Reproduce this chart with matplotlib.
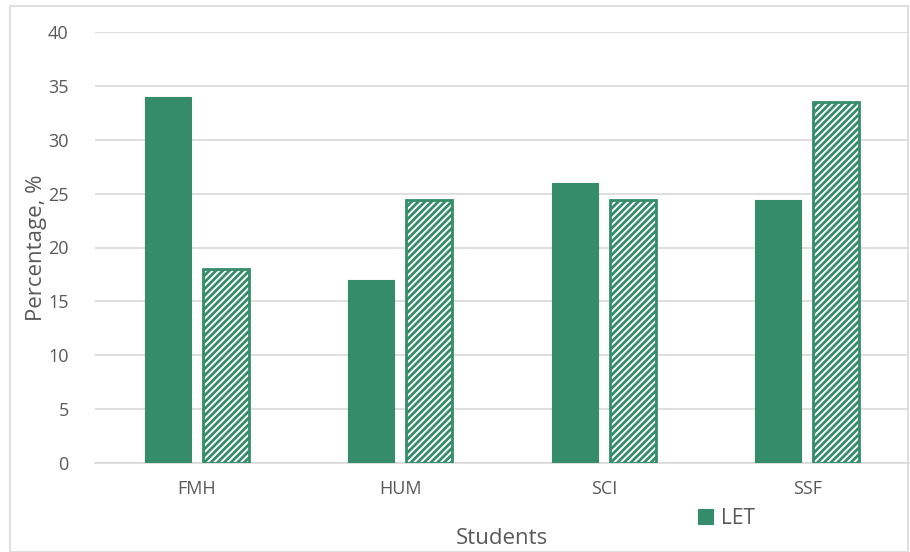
import matplotlib
matplotlib.use("Agg")
import matplotlib.pyplot as plt
from matplotlib.patches import Rectangle
import numpy as np

# Share of students per faculty
categories = ["FMH", "HUM", "SCI", "SSF"]
let_values = [34, 17, 26, 24.4]
other_values = [18, 24.4, 24.4, 33.5]
y_ticks = [0, 5, 10, 15, 20, 25, 30, 35, 40]

green = "#358c6a"
grey_text = "#595959"

plt.rcParams['font.family'] = ['Open Sans', 'DejaVu Sans']
plt.rcParams['hatch.linewidth'] = 2.0

fig = plt.figure(figsize=(9.1, 5.52), dpi=100)
# Chart frame
fig.patches.append(Rectangle((10 / 910, 0), 898 / 910, 1 - 6 / 552,
                             transform=fig.transFigure, fill=False,
                             edgecolor="#d9d9d9", linewidth=1.2))

ax = fig.add_axes([95 / 910, 1 - 463 / 552, 814 / 910, 431 / 552])

x = np.arange(len(categories))
width = 0.225
offset = 0.142

ax.bar(x - offset, let_values, width, color=green, edgecolor=green,
       linewidth=0.8, label="LET", zorder=3)
ax.bar(x + offset, other_values, width, color="white", edgecolor=green,
       hatch="/////", linewidth=2.0, zorder=3)

ax.set_xlim(-0.5, len(categories) - 0.5)
ax.set_ylim(0, 40)
ax.set_yticks(y_ticks)
ax.set_xticks(x)
ax.set_xticklabels(categories)
ax.yaxis.grid(True, color="#d9d9d9", linewidth=1.2, zorder=0)
ax.set_axisbelow(True)

for side in ["top", "right", "left"]:
    ax.spines[side].set_visible(False)
ax.spines["bottom"].set_color("#d9d9d9")
ax.spines["bottom"].set_linewidth(1.2)
ax.tick_params(axis="both", length=0, colors=grey_text, labelsize=13)
ax.tick_params(axis="y", pad=19)
ax.tick_params(axis="x", pad=12)

ax.set_ylabel("Percentage, %", fontsize=16, color=grey_text, labelpad=1)
ax.set_xlabel("Students", fontsize=16, color=grey_text, labelpad=22)

ax.legend(loc="upper left", bbox_to_anchor=(0.718, -0.06), frameon=False,
          fontsize=15, labelcolor=grey_text, handlelength=0.7,
          handleheight=0.7, handletextpad=0.4)

fig.savefig("out.png", dpi=100)
